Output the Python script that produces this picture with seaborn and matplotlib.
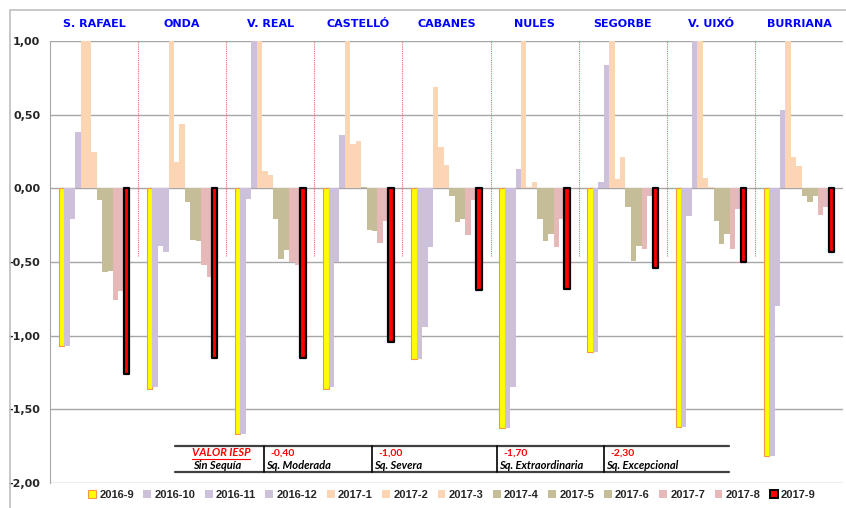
import numpy as np
import pandas as pd
import matplotlib
matplotlib.use('Agg')
import matplotlib.pyplot as plt
import seaborn as sns
from matplotlib.lines import Line2D
from matplotlib.patches import Rectangle

# estaciones y meses
stations = ['S. RAFAEL', 'ONDA', 'V. REAL', 'CASTELLÓ', 'CABANES', 'NULES', 'SEGORBE', 'V. UIXÓ', 'BURRIANA']
months = ['2016-9', '2016-10', '2016-11', '2016-12', '2017-1', '2017-2', '2017-3',
          '2017-4', '2017-5', '2017-6', '2017-7', '2017-8', '2017-9']
month_colors = ['#FFFF00', '#CCC0DA', '#CCC0DA', '#CCC0DA', '#FCD5B5', '#FCD5B5', '#FCD5B5',
                '#C4BD97', '#C4BD97', '#C4BD97', '#E6B9B8', '#E6B9B8', '#FF0000']

# valores IESP por estacion (orden de meses)
s_rafael = [-1.07, -1.07, -0.21, 0.38, 1.00, 1.00, 0.25, -0.08, -0.57, -0.56, -0.76, -0.70, -1.26]
onda     = [-1.36, -1.35, -0.39, -0.43, 1.00, 0.18, 0.44, -0.09, -0.35, -0.36, -0.52, -0.60, -1.15]
v_real   = [-1.67, -1.67, -0.07, 1.00, 1.00, 0.12, 0.09, -0.21, -0.48, -0.42, -0.50, -0.52, -1.15]
castello = [-1.36, -1.35, -0.50, 0.36, 1.00, 0.30, 0.32, 0.01, -0.28, -0.29, -0.37, -0.22, -1.04]
cabanes  = [-1.16, -1.16, -0.94, -0.40, 0.69, 0.28, 0.16, -0.05, -0.23, -0.21, -0.32, -0.08, -0.69]
nules    = [-1.63, -1.63, -1.35, 0.13, 1.00, 0.01, 0.04, -0.21, -0.36, -0.31, -0.40, -0.21, -0.68]
segorbe  = [-1.11, -1.11, 0.04, 0.84, 1.00, 0.06, 0.21, -0.13, -0.49, -0.39, -0.41, -0.05, -0.54]
v_uixo   = [-1.62, -1.62, -0.19, 1.00, 1.00, 0.07, 0.01, -0.22, -0.38, -0.31, -0.41, -0.14, -0.50]
burriana = [-1.82, -1.82, -0.80, 0.53, 1.00, 0.21, 0.15, -0.05, -0.09, -0.05, -0.18, -0.13, -0.43]

# tabla de umbrales
iesp_values = ['VALOR IESP', '-0,40', '-1,00', '-1,70', '-2,30']
iesp_labels = ['Sin Sequía', 'Sq. Moderada', 'Sq. Severa', 'Sq. Extraordinaria', 'Sq. Excepcional']

rows = []
for st, vals in zip(stations, [s_rafael, onda, v_real, castello, cabanes, nules, segorbe, v_uixo, burriana]):
    for m, v in zip(months, vals):
        rows.append({'station': st, 'month': m, 'value': v})
df = pd.DataFrame(rows)

sns.set_style('white')
plt.rcParams['font.family'] = ['DejaVu Sans']

W, H = 846, 508
fig = plt.figure(figsize=(W / 100, H / 100), dpi=100)
ax = fig.add_axes([50 / W, 25 / H, 793 / W, 442 / H])

sns.barplot(data=df, x='station', y='value', hue='month', order=stations, hue_order=months,
            palette=month_colors, saturation=1, width=0.8, gap=0, errorbar=None, ax=ax)

for cont, m in zip(ax.containers, months):
    for bar in cont:
        bar.set_edgecolor('none')
        if m == '2016-9':
            bar.set_edgecolor('#F79646')
            bar.set_linewidth(0.8)
        elif m == '2017-9':
            bar.set_edgecolor('black')
            bar.set_linewidth(1.6)
            bar.set_joinstyle('round')
            bar.set_zorder(3)

handles, labels = ax.get_legend_handles_labels()
ax.get_legend().remove()
for h, m in zip(handles, months):
    if m == '2016-9':
        h.set_edgecolor('#F79646')
        h.set_linewidth(0.8)
    elif m == '2017-9':
        h.set_edgecolor('black')
        h.set_linewidth(1.4)
    else:
        h.set_edgecolor('none')

# separadores entre estaciones
ax.vlines(np.arange(len(stations) - 1) + 0.5, -0.46, 1.0, colors='#E07070',
          linestyles=(0, (1, 1)), lw=0.8, zorder=1)

ax.set_xlim(-0.5, len(stations) - 0.5)
ax.set_ylim(-2, 1)
ax.set_yticks(np.arange(-2, 1.01, 0.5))
ax.set_yticklabels([f'{v:.2f}'.replace('.', ',') for v in np.arange(-2, 1.01, 0.5)],
                   fontsize=8, fontweight='bold')
ax.set_xticks([])
ax.set_xlabel('')
ax.set_ylabel('')
ax.yaxis.grid(True, color='#A6A6A6', lw=1)
ax.set_axisbelow(True)
for s in ['top', 'right', 'bottom']:
    ax.spines[s].set_visible(False)
ax.spines['left'].set_color('#A6A6A6')
ax.tick_params(axis='y', length=3, color='#A6A6A6', pad=4)

# nombres de estaciones
for i, st in enumerate(stations):
    ax.text(i, 1.038, st, transform=ax.get_xaxis_transform(), ha='center', va='center',
            fontsize=8, fontweight='bold', color='#0000FF')

fig.legend(handles, months, loc='center', bbox_to_anchor=(452 / W, 1 - 495 / H), ncol=13,
           frameon=False, handlelength=0.7, handleheight=0.7, handletextpad=0.3,
           columnspacing=0.85, prop={'family': ['Liberation Sans', 'DejaVu Sans'],
                                     'weight': 'bold', 'size': 8})

# tabla IESP
def fx(x):
    return x / W

def fy(y):
    return 1 - y / H

fig.add_artist(Line2D([fx(175), fx(729)], [fy(446), fy(446)], color='#404040', lw=1.6))
fig.add_artist(Line2D([fx(175), fx(729)], [fy(472), fy(472)], color='#404040', lw=1.6))
col_x = [175, 264, 372, 497, 604]
for x in col_x[1:]:
    fig.add_artist(Line2D([fx(x), fx(x)], [fy(446), fy(472)], color='black', lw=1.2))
tfont = ['Lato', 'DejaVu Sans']
for i, (v, lab) in enumerate(zip(iesp_values, iesp_labels)):
    x0 = 192 if i == 0 else col_x[i] + 6
    fig.text(fx(x0), fy(453), v, color='#FF0000', fontsize=8 if i == 0 else 7.5,
             fontweight='bold', fontstyle='italic' if i == 0 else 'normal', family=tfont,
             va='center', ha='left')
    fig.text(fx(193 if i == 0 else col_x[i] + 2), fy(465.5), lab, color='black', fontsize=8,
             fontweight='bold', fontstyle='italic', family=tfont, va='center', ha='left')
fig.add_artist(Line2D([fx(192), fx(250)], [fy(459), fy(459)], color='#FF0000', lw=0.8))

# borde del grafico
fig.add_artist(Rectangle((fx(10), -0.1), 1.2, fy(10) + 0.1, fill=False,
                         edgecolor='#BFBFBF', lw=1.2))

fig.savefig('out.png', dpi=100)
